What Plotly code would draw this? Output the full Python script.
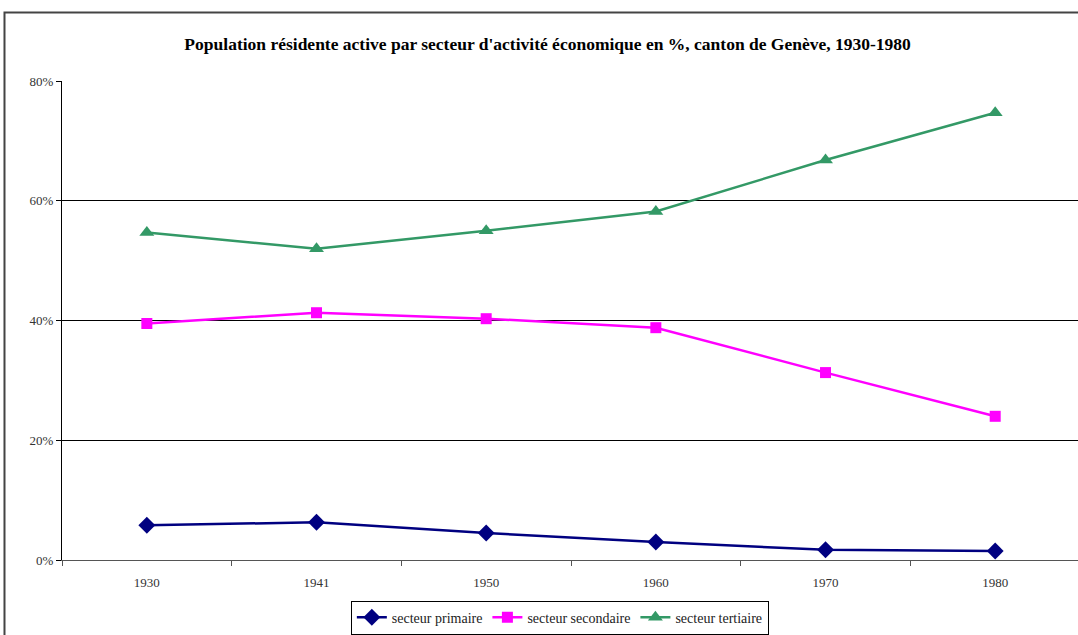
import plotly.graph_objects as go

years = ["1930", "1941", "1950", "1960", "1970", "1980"]
primaire = [5.8, 6.3, 4.5, 3.0, 1.7, 1.5]
secondaire = [39.5, 41.3, 40.3, 38.8, 31.3, 24.0]
tertiaire = [54.7, 52.0, 55.0, 58.2, 66.8, 74.7]

series = [
    ("secteur primaire", primaire, "#000080", "diamond", 13),
    ("secteur secondaire", secondaire, "#FF00FF", "square", 11),
    ("secteur tertiaire", tertiaire, "#339966", "triangle-up", 13),
]

FONT = "Times New Roman"

fig = go.Figure()
for name, vals, color, symbol, size in series:
    fig.add_trace(go.Scatter(
        x=years, y=vals, name=name, mode="lines+markers",
        line=dict(color=color, width=2.5),
        marker=dict(symbol=symbol, size=size, color=color),
    ))

fig.update_layout(
    width=1078, height=635,
    margin=dict(l=62, r=0, t=81, b=75),
    paper_bgcolor="white", plot_bgcolor="white",
    font=dict(family=FONT, size=13, color="#222"),
    title=dict(
        text="<b>Population résidente active par secteur d'activité économique en %, canton de Genève, 1930-1980</b>",
        x=0.508, xanchor="center", y=0.931, yanchor="middle",
        font=dict(family=FONT, size=17.5, color="black"),
    ),
    showlegend=True,
    legend=dict(
        orientation="h", x=0.49, xanchor="center", y=-0.085, yanchor="top",
        bordercolor="black", borderwidth=1, bgcolor="white",
        font=dict(family=FONT, size=14, color="#222"),
        itemwidth=30, tracegroupgap=0,
    ),
)

fig.update_xaxes(
    type="category", range=[-0.5, 5.488],
    tickson="boundaries", ticks="outside", ticklen=5, tickcolor="#555",
    showline=True, linecolor="#555", linewidth=1,
    showgrid=False, zeroline=False,
    tickfont=dict(family=FONT, size=13, color="#333"),
    ticklabelstandoff=10,
)
fig.update_yaxes(
    range=[0, 80], tickvals=[0, 20, 40, 60, 80],
    ticktext=["0%", "20%", "40%", "60%", "80%"],
    ticks="outside", ticklen=5, tickcolor="black",
    showline=True, linecolor="black", linewidth=1,
    showgrid=True, gridcolor="black", gridwidth=1,
    zeroline=False,
    tickfont=dict(family=FONT, size=13, color="#333"),
)

# frame around the whole chart
fig.add_shape(
    type="rect", xref="paper", yref="paper",
    x0=-0.0566, x1=1.2, y0=-0.4, y1=1.143,
    line=dict(color="#444", width=2), fillcolor="rgba(0,0,0,0)", layer="above",
)

fig.write_html("out.html")
